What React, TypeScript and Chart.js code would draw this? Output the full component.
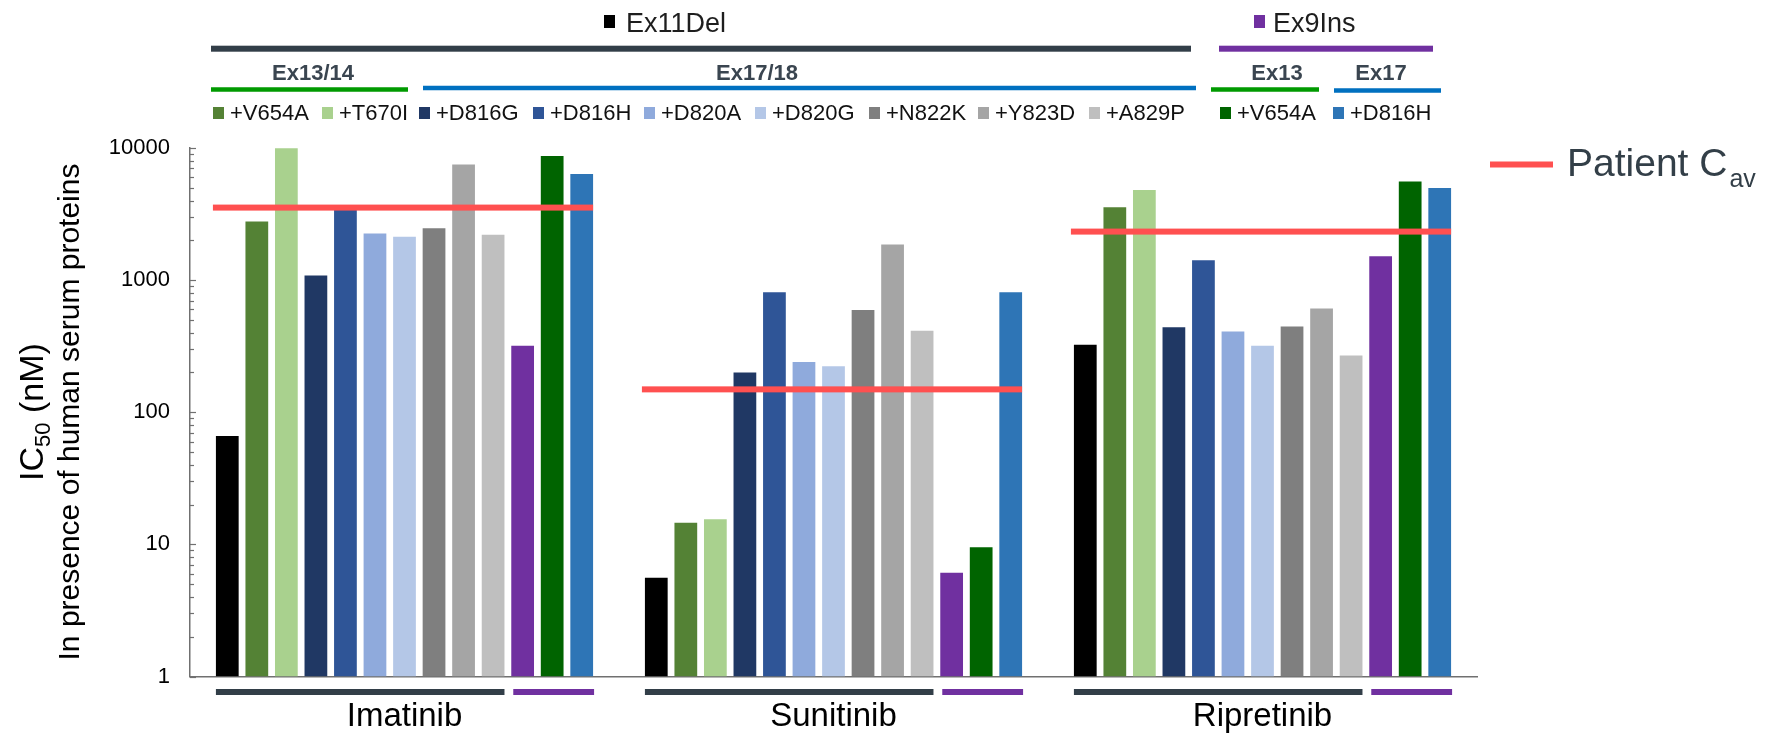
import React, { useEffect, useRef } from 'react';
import { Chart, registerables } from 'chart.js';

Chart.register(...registerables);

const FONT = "'Liberation Sans', Arial, sans-serif";

// ---------- data ----------
const drugs = ['Imatinib', 'Sunitinib', 'Ripretinib'];
const seriesNames = [
  'Ex11Del',
  'Ex11Del +V654A',
  'Ex11Del +T670I',
  'Ex11Del +D816G',
  'Ex11Del +D816H',
  'Ex11Del +D820A',
  'Ex11Del +D820G',
  'Ex11Del +N822K',
  'Ex11Del +Y823D',
  'Ex11Del +A829P',
  'Ex9Ins',
  'Ex9Ins +V654A',
  'Ex9Ins +D816H',
];
const seriesColors = [
  '#000000',
  '#548235',
  '#A9D18E',
  '#203864',
  '#2F5597',
  '#8FAADC',
  '#B4C7E7',
  '#7F7F7F',
  '#A5A5A5',
  '#BFBFBF',
  '#7030A0',
  '#006400',
  '#2E75B6',
];
// values per series: [Imatinib, Sunitinib, Ripretinib] (IC50, nM)
const ex11Del = [66, 5.6, 324];
const ex11V654A = [2780, 14.6, 3560];
const ex11T670I = [9950, 15.5, 4800];
const ex11D816G = [1085, 200, 440];
const ex11D816H = [3390, 810, 1415];
const ex11D820A = [2250, 240, 408];
const ex11D820G = [2125, 223, 318];
const ex11N822K = [2465, 593, 445];
const ex11Y823D = [7500, 1860, 611];
const ex11A829P = [2205, 413, 269];
const ex9Ins = [318, 6.1, 1517];
const ex9V654A = [8680, 9.5, 5575];
const ex9D816H = [6350, 810, 4985];
const seriesValues = [
  ex11Del, ex11V654A, ex11T670I, ex11D816G, ex11D816H, ex11D820A,
  ex11D820G, ex11N822K, ex11Y823D, ex11A829P, ex9Ins, ex9V654A, ex9D816H,
];
const patientCav = [3540, 149, 2330];
const yTicks = [1, 10, 100, 1000, 10000];

// legend texts
const ex11Label = 'Ex11Del';
const ex9Label = 'Ex9Ins';
const subHeaders = ['Ex13/14', 'Ex17/18', 'Ex13', 'Ex17'];
const legendRowLabels = ['+V654A', '+T670I', '+D816G', '+D816H', '+D820A', '+D820G', '+N822K', '+Y823D', '+A829P', '+V654A', '+D816H'];
const legendRowColorIdx = [1, 2, 3, 4, 5, 6, 7, 8, 9, 11, 12];
const cavLabel = 'Patient C';
const cavSub = 'av';

const DARK = '#323E48';
const PURPLE = '#7030A0';
const GREEN = '#009A00';
const BLUE = '#0070C0';
const RED = '#FF5050';

function hline(ctx: CanvasRenderingContext2D, x1: number, x2: number, y: number, w: number, color: string) {
  ctx.fillStyle = color;
  ctx.fillRect(x1, y - w / 2, x2 - x1, w);
}

const customPlugin = {
  id: 'custom',
  afterDatasetsDraw(chart: any) {
    const ctx: CanvasRenderingContext2D = chart.ctx;
    const y = chart.scales.y;
    const left = chart.chartArea.left;
    // inner ticks on y axis
    ctx.save();
    ctx.strokeStyle = '#707070';
    ctx.lineWidth = 1.2;
    for (let e = 0; e < 4; e++) {
      for (let m = 1; m <= 9; m++) {
        const v = m * Math.pow(10, e);
        const py = Math.round(y.getPixelForValue(v)) + 0.5;
        const len = m === 1 ? 6 : 4;
        ctx.beginPath();
        ctx.moveTo(left, py);
        ctx.lineTo(left + len, py);
        ctx.stroke();
      }
    }
    {
      const py = Math.round(y.getPixelForValue(10000)) + 0.5;
      ctx.beginPath();
      ctx.moveTo(left, py);
      ctx.lineTo(left + 6, py);
      ctx.stroke();
    }
    // patient Cav lines
    const first = chart.getDatasetMeta(0);
    const last = chart.getDatasetMeta(seriesValues.length - 1);
    for (let i = 0; i < drugs.length; i++) {
      const b0 = first.data[i];
      const b1 = last.data[i];
      const x1 = b0.x - b0.width / 2 - 3;
      const x2 = b1.x + b1.width / 2;
      const py = y.getPixelForValue(patientCav[i]);
      hline(ctx, x1, x2, py, 6, RED);
    }
    ctx.restore();
  },
  afterDraw(chart: any) {
    const ctx: CanvasRenderingContext2D = chart.ctx;
    ctx.save();
    // group under-lines
    const m0 = chart.getDatasetMeta(0);
    const m9 = chart.getDatasetMeta(9);
    const m10 = chart.getDatasetMeta(10);
    const m12 = chart.getDatasetMeta(12);
    for (let i = 0; i < drugs.length; i++) {
      const a = m0.data[i], b = m9.data[i], c = m10.data[i], d = m12.data[i];
      hline(ctx, a.x - a.width / 2, b.x + b.width / 2, 692, 6, DARK);
      hline(ctx, c.x - c.width / 2 + 2, d.x + d.width / 2 + 1, 692, 6, PURPLE);
    }

    // y axis title
    ctx.fillStyle = '#000';
    ctx.textBaseline = 'alphabetic';
    ctx.save();
    ctx.translate(43, 412);
    ctx.rotate(-Math.PI / 2);
    ctx.font = `34px ${FONT}`;
    const wIC = ctx.measureText('IC').width;
    const wNM = ctx.measureText(' (nM)').width;
    ctx.font = `22px ${FONT}`;
    const w50 = ctx.measureText('50').width;
    const total = wIC + w50 + wNM;
    let xx = -total / 2;
    ctx.textAlign = 'left';
    ctx.font = `34px ${FONT}`;
    ctx.fillText('IC', xx, 0);
    xx += wIC;
    ctx.font = `22px ${FONT}`;
    ctx.fillText('50', xx, 7);
    xx += w50;
    ctx.font = `34px ${FONT}`;
    ctx.fillText(' (nM)', xx, 0);
    ctx.restore();

    ctx.save();
    ctx.translate(79, 412);
    ctx.rotate(-Math.PI / 2);
    ctx.font = `30px ${FONT}`;
    ctx.textAlign = 'center';
    ctx.fillText('In presence of human serum proteins', 0, 0);
    ctx.restore();

    // top legend: headers
    ctx.textAlign = 'left';
    ctx.fillStyle = '#000';
    ctx.fillRect(604, 15, 11, 13);
    ctx.fillStyle = '#1E1E1E';
    ctx.font = `27px ${FONT}`;
    ctx.fillText(ex11Label, 626, 32);
    ctx.fillStyle = PURPLE;
    ctx.fillRect(1254, 15, 11, 13);
    ctx.fillStyle = '#1E1E1E';
    ctx.fillText(ex9Label, 1273, 32);

    hline(ctx, 211, 1191, 48.7, 6, DARK);
    hline(ctx, 1219, 1433, 48.7, 6, PURPLE);

    ctx.font = `bold 22px ${FONT}`;
    ctx.fillStyle = '#3A4550';
    ctx.textAlign = 'center';
    const subX = [313, 757, 1277, 1381];
    subHeaders.forEach((s, i) => ctx.fillText(s, subX[i], 80));

    hline(ctx, 211, 408, 89.5, 4.5, GREEN);
    hline(ctx, 423, 1196, 88, 4.5, BLUE);
    hline(ctx, 1211, 1319, 89.5, 4.5, GREEN);
    hline(ctx, 1334, 1441, 90.5, 4.5, BLUE);

    // legend row
    const textX = [230, 339, 436, 550, 661, 772, 886, 995, 1106, 1237, 1350];
    ctx.textAlign = 'left';
    ctx.font = `22px ${FONT}`;
    legendRowLabels.forEach((lab, i) => {
      ctx.fillStyle = seriesColors[legendRowColorIdx[i]];
      ctx.fillRect(textX[i] - 17, 107, 11, 12);
      ctx.fillStyle = '#111';
      ctx.fillText(lab, textX[i], 120);
    });

    // patient Cav legend
    hline(ctx, 1490, 1553, 164.5, 6, RED);
    ctx.fillStyle = '#333F48';
    ctx.font = `39px ${FONT}`;
    ctx.fillText(cavLabel, 1567, 176);
    const wc = ctx.measureText(cavLabel).width;
    ctx.font = `25px ${FONT}`;
    ctx.fillText(cavSub, 1567 + wc + 2, 187);

    ctx.restore();
  },
};

export default function App() {
  const ref = useRef<HTMLCanvasElement | null>(null);
  useEffect(() => {
    if (!ref.current) return;
    const chart = new Chart(ref.current, {
      type: 'bar',
      data: {
        labels: drugs,
        datasets: seriesValues.map((vals, i) => ({
          label: seriesNames[i],
          data: vals,
          backgroundColor: seriesColors[i],
          borderWidth: 0,
          categoryPercentage: 0.895,
          barPercentage: 0.77,
        })),
      },
      options: {
        responsive: false,
        animation: false,
        layout: { padding: { top: 148, right: 302, left: 0, bottom: 0 } },
        plugins: { legend: { display: false }, tooltip: { enabled: false } },
        scales: {
          x: {
            type: 'category',
            offset: true,
            grid: { display: false, drawTicks: false },
            border: { display: true, color: '#707070', width: 1.5 },
            ticks: { font: { size: 33, family: FONT }, color: '#000', padding: 21 },
            afterFit: (s: any) => { s.height = 735 - 676.5; },
          },
          y: {
            type: 'logarithmic',
            min: 1,
            max: 10000,
            grid: { display: false, drawTicks: false },
            border: { display: true, color: '#707070', width: 1.5 },
            ticks: {
              font: { size: 22, family: FONT },
              color: '#000',
              padding: 20,
              callback: (v: any) => String(v),
            },
            afterBuildTicks: (s: any) => { s.ticks = yTicks.map((v) => ({ value: v })); },
            afterFit: (s: any) => { s.width = 190; },
          },
        },
      },
      plugins: [customPlugin],
    } as any);
    return () => chart.destroy();
  }, []);
  return (
    <div style={{ position: 'absolute', left: 0, top: 0, width: 1779, height: 735, background: '#fff' }}>
      <canvas ref={ref} width={1779} height={735} style={{ display: 'block' }} />
    </div>
  );
}
